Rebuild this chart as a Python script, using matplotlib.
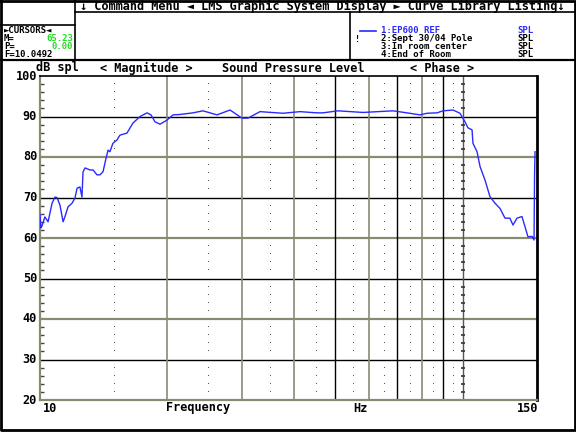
import matplotlib
matplotlib.use("Agg")
import matplotlib.pyplot as plt
from matplotlib.lines import Line2D
from matplotlib.ticker import FixedLocator, NullFormatter

# EP600 REF response
freq = [10.0, 10.05, 10.11, 10.27, 10.45, 10.68, 10.85, 10.97, 11.15, 11.34,
        11.46, 11.65, 11.91, 12.10, 12.24, 12.43, 12.57, 12.64, 12.78, 13.13,
        13.35, 13.64, 13.87, 14.10, 14.33, 14.49, 14.64, 14.88, 15.21, 15.46,
        16.06, 16.60, 17.25, 17.92, 18.31, 18.71, 19.23, 19.97, 20.64, 21.45,
        23.01, 24.30, 26.24, 28.16, 30.06, 31.06, 33.16, 37.58, 41.23, 45.23,
        46.72, 50.73, 58.11, 68.44, 73.86, 79.28, 82.37, 86.99, 89.86, 94.91,
        98.59, 101.3, 103.0, 105.3, 105.8, 108.2, 110.0, 113.0, 116.1, 119.3,
        122.6, 126.0, 129.4, 131.6, 134.5, 138.2, 140.5, 142.8, 146.0, 147.6,
        148.0, 148.4]
spl = [65.7, 62.5, 63.0, 65.2, 64.0, 68.6, 70.1, 70.0, 68.1, 64.0,
       65.3, 67.7, 68.6, 69.9, 72.3, 72.6, 70.1, 76.3, 77.3, 76.8,
       76.8, 75.6, 75.6, 76.4, 79.7, 81.7, 81.3, 83.4, 84.2, 85.4,
       85.9, 88.4, 90.0, 90.9, 90.4, 88.7, 88.1, 89.1, 90.4, 90.5,
       90.9, 91.4, 90.4, 91.6, 89.6, 89.6, 91.2, 90.8, 91.2, 90.9,
       90.9, 91.4, 91.0, 91.4, 90.9, 90.4, 90.8, 90.9, 91.4, 91.6,
       90.8, 88.7, 87.2, 86.7, 83.4, 81.3, 77.6, 74.3, 70.2, 68.6,
       67.3, 64.9, 64.9, 63.2, 64.9, 65.3, 62.8, 60.3, 60.4, 59.5,
       75.1, 81.3]

solid_grid_f = [50, 70, 90]
dim_grid_f = [20, 30, 40, 60, 80]
dot_cols_f = [15, 25, 35, 45, 55, 65, 75, 85, 95]
y_labels = [20, 30, 40, 50, 60, 70, 80, 90, 100]

curve_names = ['1:EP600 REF', '2:Sept 30/04 Pole', '3:In room center', '4:End of Room']
cursor_rows = [('M=', '65.23'), ('P=', '0.00')]

W, H = 576, 432
mono = ['DejaVu Sans Mono', 'DejaVu Sans']
DIM = '#8a8a72'
BLUE = '#2a2aff'
GREEN = '#22dd22'


def fx(px):
    return px / W


def fy(py):
    return 1 - py / H


def ftext(px, py, s, **kw):
    kw.setdefault('family', mono)
    kw.setdefault('fontsize', 8.6)
    kw.setdefault('fontweight', 'bold')
    kw.setdefault('va', 'center')
    fig.text(fx(px), fy(py), s, **kw)


def fline(xs, ys, **kw):
    kw.setdefault('color', 'black')
    kw.setdefault('lw', 1.2)
    fig.add_artist(Line2D([fx(x) for x in xs], [fy(y) for y in ys], **kw))


fig = plt.figure(figsize=(5.76, 4.32), dpi=100)
fig.patch.set_facecolor('white')

ax = fig.add_axes([fx(40), fy(400), fx(537) - fx(40), fy(76) - fy(400)])
ax.set_xscale('log')
ax.set_xlim(10, 150)
ax.set_ylim(20, 100)

# grid
for y in [30, 50, 70, 90]:
    ax.axhline(y, color='black', lw=1.0, zorder=1)
for y in [40, 60, 80]:
    ax.axhline(y, color=DIM, lw=1.6, zorder=1)
for f in solid_grid_f:
    ax.axvline(f, color='black', lw=1.0, zorder=1)
for f in dim_grid_f:
    ax.axvline(f, color=DIM, lw=1.2, zorder=1)
ax.axvline(100, color='#555555', lw=1.0, zorder=1)

minor_y = [y for y in range(22, 100, 2) if y % 10]
ax.scatter([100] * len(minor_y), minor_y, marker='_', s=12, color='#333333',
           lw=1.2, zorder=2)
for f in dot_cols_f:
    ax.plot([f] * len(minor_y), minor_y, ',', color='#555555', zorder=2)

ax.plot(freq, spl, color=BLUE, lw=1.0, zorder=3)

ax.xaxis.set_major_locator(FixedLocator([]))
ax.xaxis.set_minor_locator(FixedLocator([]))
ax.xaxis.set_major_formatter(NullFormatter())
ax.xaxis.set_minor_formatter(NullFormatter())
ax.yaxis.set_major_locator(FixedLocator([]))
ax.yaxis.set_minor_locator(FixedLocator(minor_y))
ax.tick_params(axis='y', which='minor', direction='in', length=3, width=1,
               color='#444444')
ax.spines['left'].set_color(DIM)
ax.spines['left'].set_linewidth(1.6)
ax.spines['bottom'].set_color(DIM)
ax.spines['bottom'].set_linewidth(1.6)
ax.spines['top'].set_linewidth(1.2)
ax.spines['right'].set_linewidth(2.0)

# frame layout
fline([1, 575, 575, 1, 1], [1, 1, 430, 430, 1], lw=2.0)
fline([75, 576], [12, 12])
fline([75, 75], [0, 60])
fline([0, 75], [25, 25])
fline([0, 576], [60, 60], lw=1.6)
fline([350, 350], [12, 60])

ftext(80, 6, '↓ Command Menu ◄ LMS Graphic System Display ► Curve Library Listing↓')

small = 6.0
rows_y = [30.5, 38.5, 46.5, 54.5]
ftext(4, rows_y[0], '►CURSORS◄', fontsize=small + 0.5)
for (lab, val), y in zip(cursor_rows, rows_y[1:3]):
    ftext(4, y, lab, fontsize=small + 0.5)
    ftext(73, y, val, color=GREEN, ha='right', fontsize=small + 0.5)
ftext(4, rows_y[3], 'F=10.0492', fontsize=small + 0.5)

fline([360, 376], [rows_y[0], rows_y[0]], color=BLUE, lw=1.2)
ftext(355, 40, '!', fontsize=small)
for i, (name, y) in enumerate(zip(curve_names, rows_y)):
    c = BLUE if i == 0 else 'black'
    ftext(381, y, name, color=c, fontsize=small + 0.5)
    ftext(517, y, 'SPL', color=c, fontsize=small + 0.5)

ftext(36, 68, 'dB spl')
ftext(100, 68, '< Magnitude >')
ftext(222, 68, 'Sound Pressure Level')
ftext(410, 68, '< Phase >')

for v in y_labels:
    ftext(37, 400 - (v - 20) * 4.05, str(v), ha='right')

ftext(43, 408, '10')
ftext(166, 408, 'Frequency')
ftext(353, 408, 'Hz')
ftext(538, 408, '150', ha='right')

fig.savefig('out.png', dpi=100)
